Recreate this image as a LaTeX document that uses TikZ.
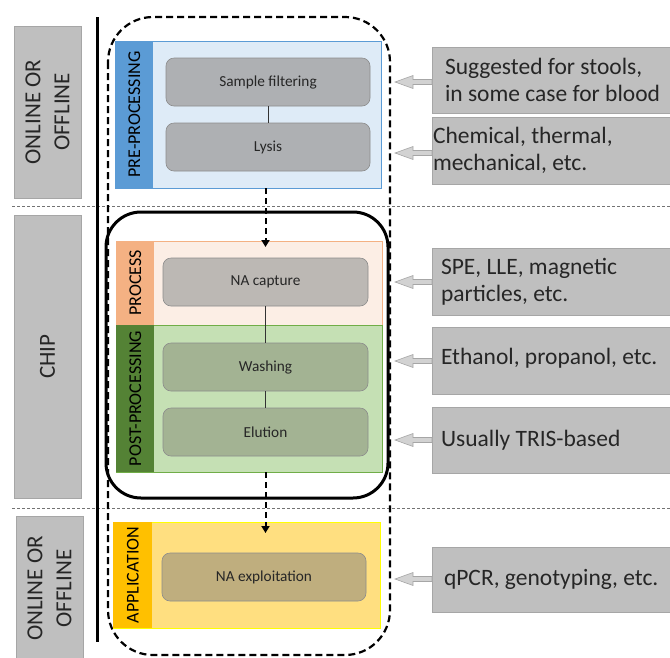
\documentclass[tikz,border=0pt]{standalone}
\usepackage{fontspec}
\setmainfont{Carlito}
\usetikzlibrary{arrows.meta}
\definecolor{preband}{HTML}{5B9BD5}
\definecolor{prefill}{HTML}{DEEBF7}
\definecolor{preline}{HTML}{5B9BD5}
\definecolor{procband}{HTML}{F4B183}
\definecolor{procfill}{HTML}{FCEEE5}
\definecolor{postband}{HTML}{548235}
\definecolor{postfill}{HTML}{C5E0B4}
\definecolor{postline}{HTML}{70AD47}
\definecolor{appband}{HTML}{FFC000}
\definecolor{appfill}{HTML}{FFDF80}
\definecolor{appline}{HTML}{FFFF00}
\definecolor{nodegray}{HTML}{AEB0B3}
\definecolor{nodewarm}{HTML}{BCB8B4}
\definecolor{nodegreen}{HTML}{A3B393}
\definecolor{nodegold}{HTML}{BFAE7E}
\definecolor{nodeline}{HTML}{8C8C8C}
\definecolor{sidegray}{HTML}{BFBFBF}
\definecolor{sideline}{HTML}{A6A6A6}
\newcommand\calloutarrow[1]{%
  \filldraw[fill=sidegray!70, draw=sideline, line width=0.6pt]
    (395,#1) -- (413,#1-6.5) -- (413,#1-2.5) -- (432,#1-2.5) -- (432,#1+2.5) -- (413,#1+2.5) -- (413,#1+6.5) -- cycle;}
\begin{document}
\begin{tikzpicture}[x=1pt,y=-1pt,
  every node/.style={inner sep=0pt, outer sep=0pt},
  stage/.style={draw, line width=0.8pt, anchor=north west},
  band/.style={anchor=north west, minimum width=38pt},
  bandlabel/.style={rotate=90, font=\fontsize{18}{20}\selectfont},
  stepnode/.style={draw=nodeline, line width=0.6pt, rounded corners=8pt, anchor=north west,
     minimum width=204pt, minimum height=48pt, font=\fontsize{15.3}{17}\selectfont, text=black!85},
  side/.style={fill=sidegray, draw=sideline, line width=0.6pt, anchor=north west,
     minimum width=245pt},
  sidetext/.style={anchor=west, align=left, font=\fontsize{23.5}{27}\selectfont, text=black!85},
  leftbox/.style={fill=sidegray, draw=sideline, line width=0.6pt, anchor=north west, minimum width=67pt},
  lefttext/.style={rotate=90, align=center, font=\fontsize{23}{29}\selectfont, text=black!85},
  sep/.style={draw=black!55, dashed, dash pattern=on 3pt off 2pt, line width=0.7pt},
  flow/.style={dashed, dash pattern=on 6pt off 4pt, line width=2pt, -{Triangle[length=7pt,width=8pt]}},
  link/.style={draw=black!80, line width=0.7pt}
]
\useasboundingbox (0,0) rectangle (670,657);

% separators
\draw[sep] (12,206) -- (670,206);
\draw[sep] (12,508) -- (670,508);

% left labels
\node[leftbox, minimum height=172pt] (lab1) at (14,26) {};
\node[lefttext] at (lab1.center) {ONLINE OR\\OFFLINE};
\node[leftbox, minimum height=283pt] (lab2) at (14,215) {};
\node[lefttext] at (lab2.center) {CHIP};
\node[leftbox, minimum height=145pt] (lab3) at (16,516) {};
\node[lefttext] at (lab3.center) {ONLINE OR\\OFFLINE};

% vertical line
\draw[line width=3pt] (97,17) -- (97,642);

% outer dashed frame
\draw[dashed, dash pattern=on 7pt off 4pt, line width=2.2pt, rounded corners=45pt] (108,17) rectangle (390,655);

% pre-processing
\node[stage, draw=preline, fill=prefill, minimum width=266pt, minimum height=147pt] (pre) at (115,41) {};
\node[band, fill=preband, minimum height=146.2pt] (preb) at (115.4,41.4) {};
\node[bandlabel] at (preb.center) {PRE-PROCESSING};
\node[stepnode, fill=nodegray] (filt) at (166,58) {Sample filtering};
\node[stepnode, fill=nodegray] (lysis) at (166,123) {Lysis};
\draw[link] (filt.south) -- (lysis.north);

% chip frame
\draw[line width=3pt, rounded corners=35pt] (106,212) rectangle (388,498);

% process
\node[stage, draw=procband, fill=procfill, minimum width=266pt, minimum height=84pt] (proc) at (116,241) {};
\node[band, fill=procband, minimum height=83.2pt] (procb) at (116.4,241.4) {};
\node[bandlabel] at (procb.center) {PROCESS};
\node[stepnode, fill=nodewarm, minimum width=205pt] (cap) at (163,258) {NA capture};

% post-processing
\node[stage, draw=postline, fill=postfill, minimum width=266pt, minimum height=147pt] (post) at (116,325) {};
\node[band, fill=postband, minimum height=146.2pt] (postb) at (116.4,325.4) {};
\node[bandlabel] at (postb.center) {POST-PROCESSING};
\node[stepnode, fill=nodegreen, minimum width=205pt] (wash) at (163,343) {Washing};
\node[stepnode, fill=nodegreen, minimum width=205pt] (elu) at (163,408) {Elution};
\draw[link] (cap.south) -- (wash.north);
\draw[link] (wash.south) -- (elu.north);

% application
\node[stage, draw=appline, fill=appfill, minimum width=267pt, minimum height=106pt] (app) at (113,522) {};
\node[band, fill=appband, minimum height=105.2pt, minimum width=39pt] (appb) at (113.4,522.4) {};
\node[bandlabel] at (appb.center) {APPLICATION};
\node[stepnode, fill=nodegold] (expl) at (162,553) {NA exploitation};

% flow arrows
\draw[flow] (pre.south -| cap.north) -- ([yshift=-6pt]proc.north -| cap.north);
\draw[flow] (post.south -| elu.south) -- ([yshift=-11pt]app.north -| elu.south);

% callouts
\node[side, minimum height=66pt] (c1) at (432,47) {};
\node[sidetext] at (445,80) {Suggested for stools,\\in some case for blood};
\node[side, minimum height=67pt] (c2) at (432,117) {};
\node[sidetext] at (433,150) {Chemical, thermal,\\mechanical, etc.};
\node[side, minimum height=67pt] (c3) at (432,248) {};
\node[sidetext] at (441,282) {SPE, LLE, magnetic\\particles, etc.};
\node[side, minimum height=67pt] (c4) at (432,327) {};
\node[sidetext] at (441,358) {Ethanol, propanol, etc.};
\node[side, minimum height=66pt] (c5) at (432,407) {};
\node[sidetext] at (441,440) {Usually TRIS-based};
\node[side, minimum height=65pt] (c6) at (432,547) {};
\node[sidetext] at (444,579) {qPCR, genotyping, etc.};

\calloutarrow{82}
\calloutarrow{153}
\calloutarrow{282}
\calloutarrow{361}
\calloutarrow{440}
\calloutarrow{579}
\end{tikzpicture}
\end{document}
